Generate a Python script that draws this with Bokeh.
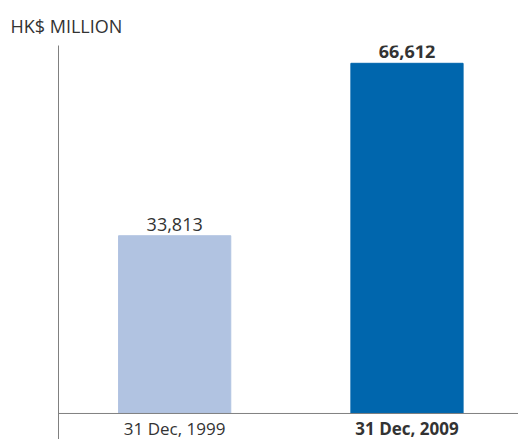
from bokeh.plotting import figure
from bokeh.models import ColumnDataSource, LabelSet, Range1d, FixedTicker, Span
from bokeh.core.properties import value
from bokeh.embed import file_html
from bokeh.resources import INLINE

# data
categories = ["31 Dec, 1999", "31 Dec, 2009"]
values = [33813, 66612]
value_labels = ["33,813", "66,612"]
colors = ["#B1C3E1", "#0066AD"]
styles = ["normal", "bold"]

xs = list(range(len(categories)))
src = ColumnDataSource(dict(x=xs, top=values, cat=categories, vlab=value_labels,
                            color=colors, style=styles, zero=[0] * len(xs)))

FONT = "Open Sans"
TXT = "#333333"
AX = "#808080"

p = figure(width=518, height=439, output_backend="svg", toolbar_location=None,
           x_range=Range1d(-0.5, 1.48), y_range=Range1d(-4950, 70000),
           min_border_left=58, min_border_right=0, min_border_top=45, min_border_bottom=0)
p.outline_line_color = None
p.grid.visible = False

p.title.text = "HK$ MILLION"
p.title.text_font = FONT
p.title.text_font_size = "18px"
p.title.text_font_style = "normal"
p.title.text_color = TXT
p.title.align = "left"
p.title.offset = -48
p.title.standoff = 16

p.vbar(x="x", top="top", width=0.483, color="color", source=src)

# y axis: line only
p.yaxis.ticker = FixedTicker(ticks=[])
p.yaxis.major_tick_line_color = None
p.yaxis.minor_tick_line_color = None
p.yaxis.axis_line_color = AX
p.xaxis.visible = False

p.add_layout(Span(location=0, dimension="width", line_color=AX, line_width=1))

vl = LabelSet(x="x", y="top", text="vlab", source=src, text_align="center",
              text_baseline="bottom", y_offset=5, text_font=value(FONT), text_font_size="18px",
              text_font_style="style", text_color=TXT)
cl = LabelSet(x="x", y="zero", text="cat", source=src, text_align="center",
              text_baseline="top", y_offset=-4, text_font=value(FONT), text_font_size="17px",
              text_font_style="style", text_color=TXT)
p.add_layout(vl)
p.add_layout(cl)

open("out.html", "w").write(file_html(p, INLINE))
